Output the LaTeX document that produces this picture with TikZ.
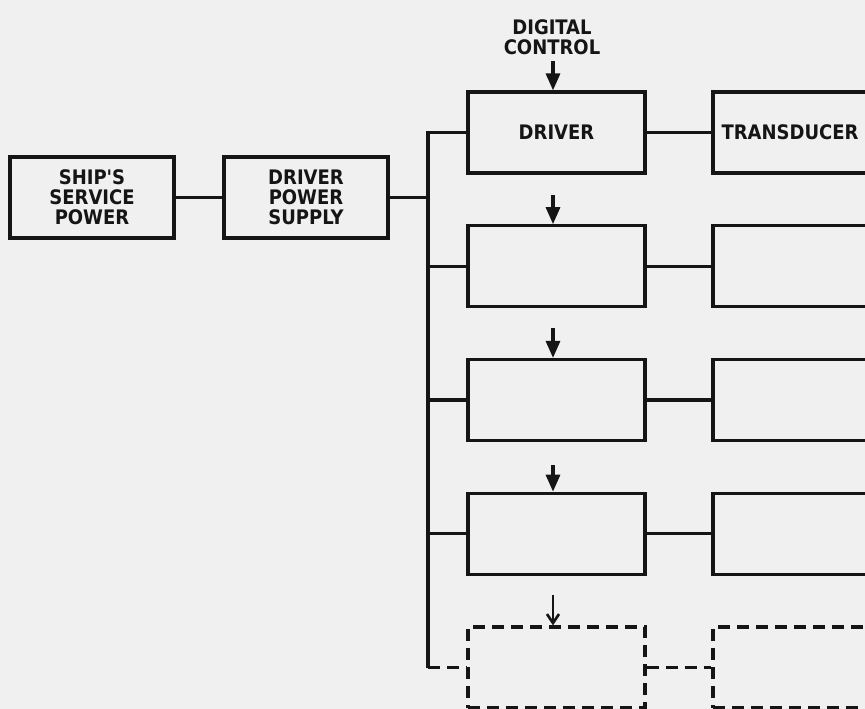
\documentclass[tikz,border=0pt]{standalone}
\usepackage{fontspec}
\newfontfamily\lettering{DejaVu Sans Condensed Bold}
\usetikzlibrary{arrows.meta}
\definecolor{paper}{HTML}{F0F0F0}
\definecolor{ink}{HTML}{151515}
\begin{document}
\begin{tikzpicture}[x=1pt,y=-1pt,
  blk/.style={draw=ink, line width=3.2pt, minimum height=81pt, inner sep=0pt,
    font=\lettering\fontsize{20}{20}\selectfont, align=center, text=ink},
  lblk/.style={blk, minimum width=164pt},
  dblk/.style={blk, minimum width=177pt},
  dashblk/.style={dblk, dash pattern=on 12pt off 7pt},
  wire/.style={draw=ink, line width=3.2pt},
  dwire/.style={wire, dash pattern=on 12pt off 7pt},
  ctl/.style={draw=ink, line width=3.2pt, -{Triangle[width=14pt,length=17pt]}},
  dctl/.style={draw=ink, line width=2.6pt, -{Straight Barb[width=12pt,length=9pt]}},
  lbl/.style={font=\lettering\fontsize{20}{24}\selectfont, align=center, text=ink}]
\fill[paper] (0,0) rectangle (865,709);
\useasboundingbox (0,0) rectangle (865,709);
\clip (0,0) rectangle (865,709);
% left boxes
\node[lblk] (ssp) at (92,197.5) {SHIP'S\\SERVICE\\POWER};
\node[lblk] (dps) at (306,197.5) {DRIVER\\POWER\\SUPPLY};
\draw[wire] (ssp.east) -- (dps.west);
% bus
\coordinate (btop) at (428,132.5);
\coordinate (bbot) at (428,667.5);
\coordinate (bmid) at (428,197.5);
\draw[wire] (dps.east) -- (bmid);
% rows
\node[dblk] (d1) at (556.5,132.5) {DRIVER};
\node[dblk] (t1) at (801.5,132.5) {TRANSDUCER\hspace*{23pt}};
\node[dblk] (d2) at (556.5,266.25) {};
\node[dblk] (t2) at (801.5,266.25) {};
\node[dblk] (d3) at (556.5,400) {};
\node[dblk] (t3) at (801.5,400) {};
\node[dblk] (d4) at (556.5,533.75) {};
\node[dblk] (t4) at (801.5,533.75) {};
\node[dashblk] (d5) at (556.5,667.5) {};
\node[dashblk] (t5) at (801.5,667.5) {};
\draw[wire] (d1.west) -| (bbot);
\foreach \i in {1,2,3,4}{
  \draw[wire] (d\i.east) -- (t\i.west);
  \draw[wire] (d\i.west -| btop) -- (d\i.west);
}
\draw[dwire] (bbot) -- (d5.west);
\draw[dwire] (d5.east) -- (t5.west);
% control
\node[lbl] (dc) at (552,37) {DIGITAL\\[-4pt]CONTROL};
\coordinate (c1) at (553,61);
\coordinate (c2) at (553,195);
\coordinate (c3) at (553,328);
\coordinate (c4) at (553,465);
\coordinate (c5) at (553,595);
\draw[ctl] (c1) -- (c1 |- d1.north);
\draw[ctl] (c2) -- (c2 |- d2.north);
\draw[ctl] (c3) -- (c3 |- d3.north);
\draw[ctl] (c4) -- (c4 |- d4.north);
\draw[dctl] (c5) -- (c5 |- d5.north);
\end{tikzpicture}
\end{document}
